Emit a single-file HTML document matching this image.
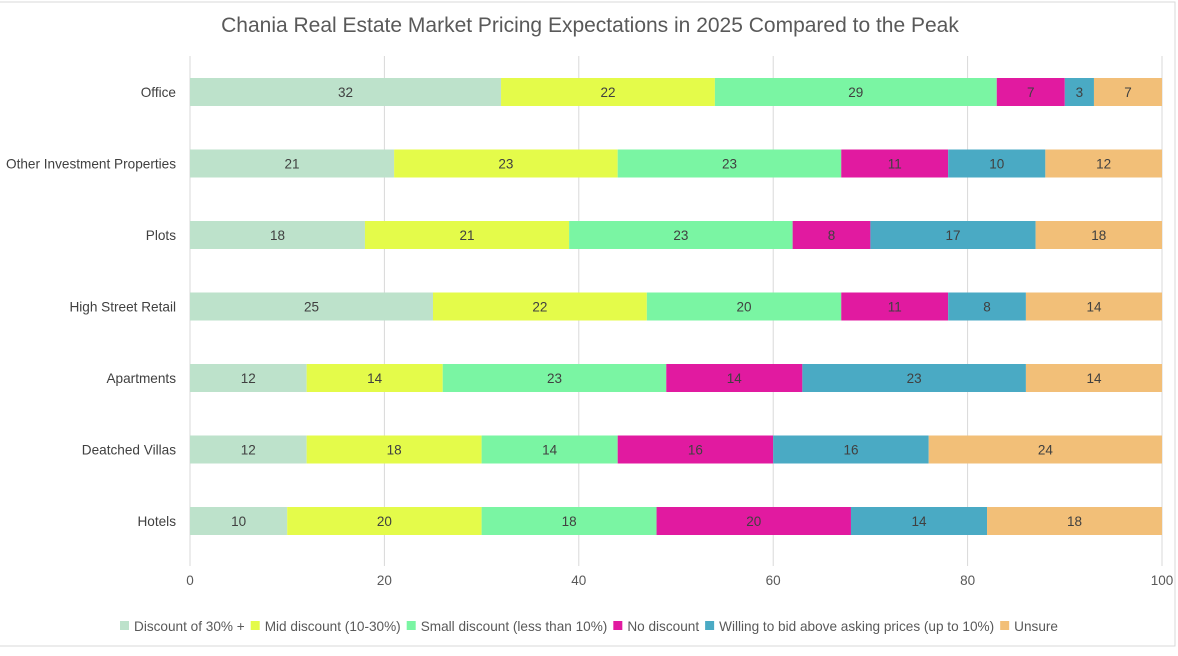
<!DOCTYPE html>
<html><head><meta charset="utf-8"><style>
body{margin:0;background:#fff;font-family:"Liberation Sans",sans-serif;}
svg text{font-family:"Liberation Sans",sans-serif;}
</style></head><body>
<svg id="c" width="1178" height="651" xmlns="http://www.w3.org/2000/svg">
<rect x="0" y="0" width="1178" height="651" fill="#fff"/>
<rect x="-2" y="2" width="1177" height="644" fill="#fff" stroke="#d9d9d9"/>
<text x="590" y="32" text-anchor="middle" font-size="21" fill="#595959">Chania Real Estate Market Pricing Expectations in 2025 Compared to the Peak</text>
<g id="grid"></g><g id="bars"></g><g id="ylab"></g><g id="xlab"></g><g id="legend"></g>
</svg>
<script>
const categories=["Office","Other Investment Properties","Plots","High Street Retail","Apartments","Deatched Villas","Hotels"];
const seriesNames=["Discount of 30% +","Mid discount (10-30%)","Small discount (less than 10%)","No discount","Willing to bid above asking prices (up to 10%)","Unsure"];
const s1=[32,21,18,25,12,12,10];
const s2=[22,23,21,22,14,18,20];
const s3=[29,23,23,20,23,14,18];
const s4=[7,11,8,11,14,16,20];
const s5=[3,10,17,8,23,16,14];
const s6=[7,12,18,14,14,24,18];
const xTicks=[0,20,40,60,80,100];
const xMax=100;
const colors=["#bde2cb","#e4fb4a","#7af5a3","#e11aa0","#4aaac4","#f2bf78"];
const series=[s1,s2,s3,s4,s5,s6];
const NS="http://www.w3.org/2000/svg";
const x0=190,x1=1162,yTop=56,yBot=556;
const xs=v=>x0+(Math.min(v,xMax)/xMax)*(x1-x0);
const yc=i=>92+i*71.5;
function mk(tag,attrs,parent){const e=document.createElementNS(NS,tag);for(const k in attrs)e.setAttribute(k,attrs[k]);document.getElementById(parent).appendChild(e);return e;}
xTicks.forEach(t=>{
 const l=mk("line",{x1:xs(t),x2:xs(t),y1:yTop,y2:yBot+10,stroke:"#d9d9d9"},"grid");
 
 
 const tx=mk("text",{x:xs(t),y:585,"text-anchor":"middle","font-size":"13.5",fill:"#595959"},"xlab");
 tx.textContent=t;
 
 
});
categories.forEach((c,i)=>{
 const t=mk("text",{x:176,y:yc(i)+5,"text-anchor":"end","font-size":"13.6",fill:"#404040"},"ylab");
 t.textContent=c;
 
 
 let acc=0;
 series.forEach((s,j)=>{
  const v=s[i];
  const a=xs(acc),b=xs(acc+v);
  if(b>a){
   const r=mk("rect",{x:a,y:yc(i)-14,width:b-a,height:28,fill:colors[j]},"bars");
   
   
   const lt=mk("text",{x:(a+b)/2,y:yc(i)+5,"text-anchor":"middle","font-size":"13.5",fill:"#404040"},"bars");
   lt.textContent=v;
   
   
  }
  acc+=v;
 });
});
let lx=120;
seriesNames.forEach((n,j)=>{
 const sw=mk("rect",{x:lx,y:621,width:9,height:9,fill:colors[j]},"legend");
 
 
 const t=mk("text",{x:lx+14,y:631,"font-size":"13.6",fill:"#595959"},"legend");
 t.textContent=n;
 
 
 lx+=14+t.getComputedTextLength()+6;
});
</script>
</body></html>
